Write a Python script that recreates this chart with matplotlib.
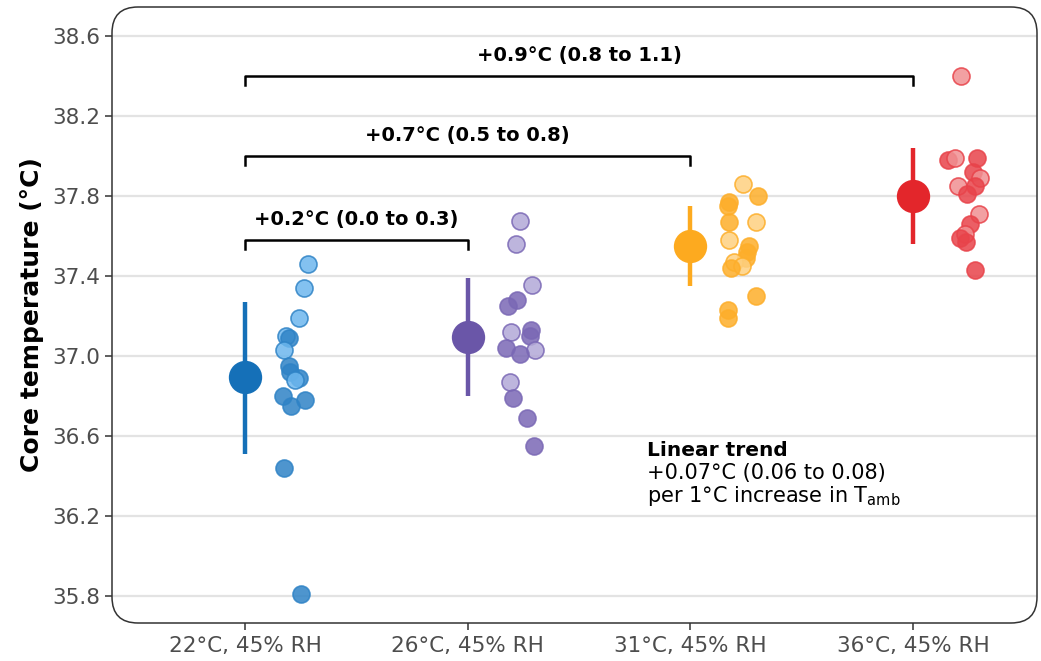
import matplotlib.pyplot as plt
from matplotlib.patches import FancyBboxPatch

# Datos
condiciones = ['22°C, 45% RH', '26°C, 45% RH', '31°C, 45% RH', '36°C, 45% RH']

media = [36.895, 37.095, 37.55, 37.80]
ic_inf = [36.51, 36.80, 37.35, 37.56]
ic_sup = [37.27, 37.39, 37.75, 38.04]

# valores individuales por condicion
vals_22 = [37.46, 37.34, 37.19, 37.10, 37.09, 37.03, 36.95, 36.92, 36.89, 36.88,
           36.80, 36.78, 36.75, 36.44, 35.81]
vals_26 = [37.675, 37.56, 37.355, 37.28, 37.25, 37.12, 37.13, 37.10, 37.04, 37.03,
           37.01, 36.87, 36.79, 36.69, 36.55]
vals_31 = [37.86, 37.80, 37.77, 37.75, 37.67, 37.67, 37.58, 37.55, 37.52, 37.49,
           37.47, 37.45, 37.44, 37.30, 37.23, 37.19]
vals_36 = [38.40, 37.98, 37.99, 37.99, 37.92, 37.89, 37.85, 37.81, 37.85, 37.71,
           37.66, 37.61, 37.59, 37.57, 37.43]

# desplazamiento horizontal (jitter)
jit_22 = [.284, .265, .244, .184, .199, .176, .199, .202, .244, .225, .172, .269, .205, .175, .250]
jit_26 = [.235, .216, .291, .220, .181, .196, .284, .279, .171, .302, .235, .190, .205, .265, .298]
jit_31 = [.235, .302, .176, .171, .176, .296, .176, .262, .255, .251, .198, .233, .183, .296, .168, .168]
jit_36 = [.215, .159, .189, .286, .271, .301, .203, .244, .278, .297, .256, .234, .211, .239, .278]

# puntos claros (1) u oscuros (0)
claro_22 = [1, 1, 1, 1, 0, 1, 0, 0, 0, 1, 0, 0, 0, 0, 0]
claro_26 = [1, 1, 1, 0, 0, 1, 0, 0, 0, 1, 0, 1, 0, 0, 0]
claro_31 = [1, 0, 0, 0, 0, 1, 1, 0, 0, 0, 1, 1, 0, 0, 0, 0]
claro_36 = [1, 0, 1, 0, 0, 1, 1, 0, 0, 1, 0, 1, 0, 0, 0]

# comparaciones
comp_ini = [0, 0, 0]
comp_fin = [1, 2, 3]
comp_y = [37.58, 38.0, 38.4]
comp_txt = ['+0.2°C (0.0 to 0.3)', '+0.7°C (0.5 to 0.8)', '+0.9°C (0.8 to 1.1)']

yticks = [35.8, 36.2, 36.6, 37.0, 37.4, 37.8, 38.2, 38.6]

col_media = ['#1570b8', '#6a56a8', '#fdaa1f', '#e3262b']
col_pto = ['#2f83c6', '#7a68b5', '#fdae2a', '#e8434a']
col_claro = ['#6db7ee', '#b2a8d7', '#fed080', '#f09092']

valores = [vals_22, vals_26, vals_31, vals_36]
jitters = [jit_22, jit_26, jit_31, jit_36]
claros = [claro_22, claro_26, claro_31, claro_36]

fig = plt.figure(figsize=(10.41, 6.61), dpi=100)
ax = fig.add_axes([112 / 1041, 38 / 661, 925 / 1041, 616 / 661])

for y in yticks:
    ax.axhline(y, color='#e3e3e3', lw=1.6, zorder=0)

for i in range(4):
    # intervalo y media
    ax.plot([i, i], [ic_inf[i], ic_sup[i]], color=col_media[i], lw=3.2, zorder=2,
            solid_capstyle='butt')
    ax.plot(i, media[i], 'o', color=col_media[i], markersize=24, zorder=3,
            markeredgewidth=0)
    # puntos individuales
    for v, j, c in zip(valores[i], jitters[i], claros[i]):
        cara = col_claro[i] if c else col_pto[i]
        ax.scatter(i + j, v, s=150, facecolor=cara, edgecolor=col_pto[i],
                   linewidth=1.2, alpha=0.85, zorder=4)

# corchetes de comparacion
for a, b, y, t in zip(comp_ini, comp_fin, comp_y, comp_txt):
    ax.plot([a, a, b, b], [y - 0.045, y, y, y - 0.045], color='black', lw=1.8,
            zorder=5)
    ax.text((a + b) / 2, y + 0.105, t, ha='center', va='center', fontsize=14,
            fontweight='bold', color='black')

# tendencia lineal
ax.text(1.805, 36.525, 'Linear trend', ha='left', va='center', fontsize=14.5,
        fontweight='bold', color='black')
ax.text(1.805, 36.415, '+0.07°C (0.06 to 0.08)', ha='left', va='center',
        fontsize=15, color='black')
ax.text(1.805, 36.30, 'per 1°C increase in T$_{\\mathregular{amb}}$', ha='left',
        va='center', fontsize=15, color='black')

ax.set_xlim(-0.597, 3.557)
ax.set_ylim(35.665, 38.745)
ax.set_xticks(range(4))
ax.set_xticklabels(condiciones)
ax.set_yticks(yticks)
ax.set_yticklabels([f'{v:.1f}' for v in yticks])
ax.tick_params(axis='both', labelsize=15.5, labelcolor='#4d4d4d', color='#333333',
               length=5, width=1.1)
ax.tick_params(axis='x', pad=4)
ax.set_ylabel('Core temperature (°C)', fontsize=18, fontweight='bold', labelpad=6)

for s in ax.spines.values():
    s.set_visible(False)

# borde redondeado del panel
borde = FancyBboxPatch((1.12, 0.38), 9.25, 6.16,
                       boxstyle='round,pad=0,rounding_size=0.26',
                       transform=fig.dpi_scale_trans, facecolor='none',
                       edgecolor='#333333', lw=1.1, zorder=10)
fig.add_artist(borde)

plt.savefig('out.png', dpi=100)
